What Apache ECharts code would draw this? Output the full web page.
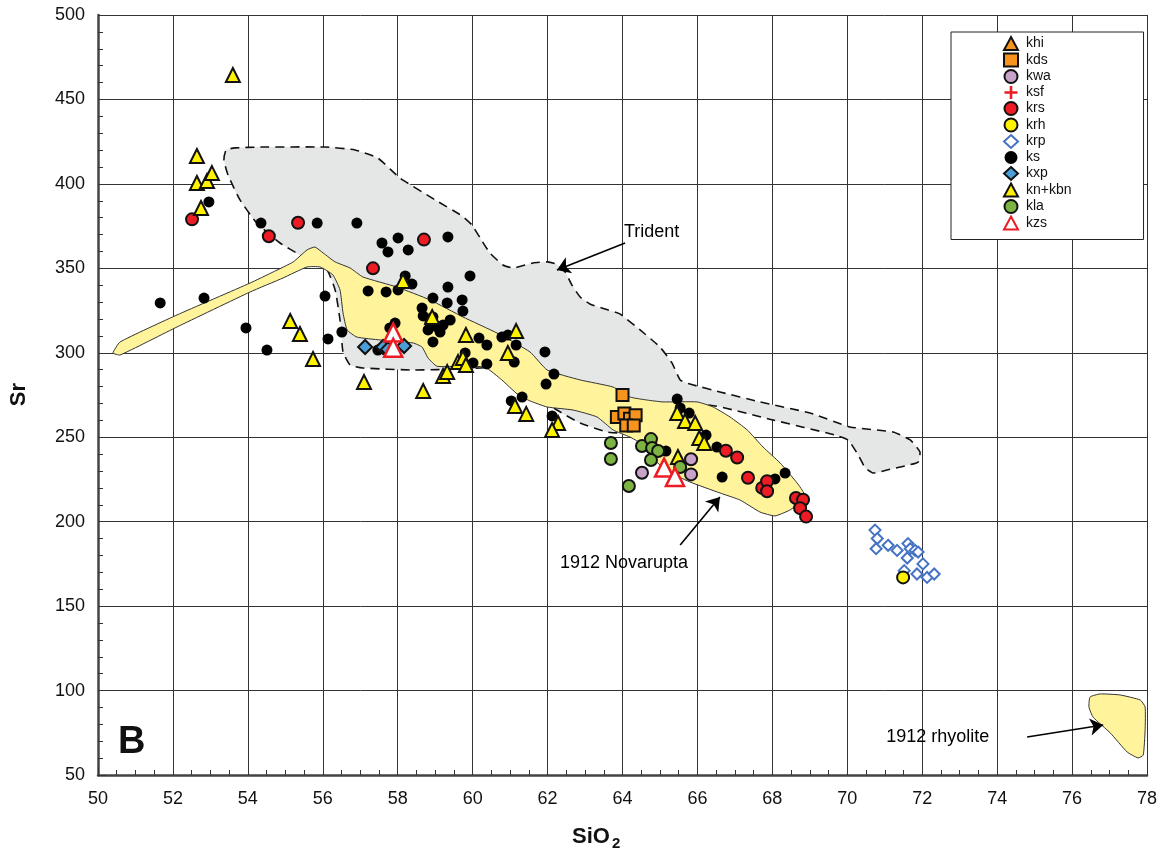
<!DOCTYPE html>
<html>
<head>
<meta charset="utf-8">
<script src="https://cdn.jsdelivr.net/npm/echarts@6/dist/echarts.min.js"></script>
<style>
  html, body { margin: 0; padding: 0; background: #fff; }
  #chart { width: 1168px; height: 857px; }
</style>
</head>
<body>
<div id="chart"></div>
<script>
// sample groups, [SiO2, Sr]
const khi = [];
const kds = [[64.0, 275], [63.85, 262], [64.05, 264], [64.2, 261], [64.35, 263], [64.1, 257], [64.3, 257]];
const kwa = [[64.52, 229], [65.83, 237], [65.83, 228]];
const ksf = [];
const krs = [[52.51, 379], [55.34, 377], [54.56, 369], [58.70, 367], [57.34, 350], [66.76, 242], [67.06, 238],
  [67.35, 226], [67.73, 220], [67.86, 224], [67.86, 218], [68.63, 214], [68.82, 213], [68.74, 208], [68.9, 203]];
const krh = [[71.49, 167]];
const krp = [[70.74, 195], [70.80, 190], [70.77, 184], [71.09, 186], [71.33, 183], [71.62, 187], [71.68, 184],
  [71.81, 183], [71.89, 182], [71.60, 178.5], [72.02, 175], [71.52, 171], [71.86, 169], [72.13, 167], [72.32, 169]];
const ks = [[51.66, 329.5], [52.83, 332.4], [52.96, 389.3], [53.95, 314.7], [54.51, 301.6], [54.35, 376.8],
  [55.85, 376.8], [56.06, 333.6], [56.14, 308.2], [56.51, 312.3], [56.91, 376.8], [57.58, 365.0], [58.01, 368.0],
  [57.74, 359.7], [58.28, 360.9], [59.34, 368.6], [59.93, 345.5], [58.38, 340.7], [58.01, 337.2], [57.69, 336.0],
  [57.21, 336.6], [58.2, 345.5], [59.34, 338.9], [58.94, 332.4], [59.32, 329.5], [59.72, 331.3], [59.74, 324.7],
  [58.65, 326.5], [58.68, 321.8], [58.86, 317.6], [59.05, 315.3], [59.21, 316.4], [59.40, 319.4], [59.13, 312.3],
  [58.81, 313.5], [58.94, 321.2], [58.94, 306.4], [57.93, 317.6], [57.79, 314.7], [60.17, 308.7], [60.38, 304.6],
  [60.78, 309.3], [60.94, 310.5], [61.16, 304.6], [59.80, 299.9], [60.01, 294.0], [60.38, 293.4], [61.11, 294.5],
  [61.93, 300.5], [62.17, 287.4], [61.96, 281.5], [61.32, 273.8], [61.03, 271.5], [62.12, 262.6], [65.46, 272.6],
  [65.54, 267.3], [65.78, 264.3], [65.16, 241.8], [66.23, 251.3], [66.15, 249.5], [66.52, 244.2], [66.66, 226.4],
  [68.07, 225.3], [68.34, 228.8], [57.47, 301.6], [64.01, 262.0]];
const kxp = [[57.13, 303.4], [57.61, 303.4], [57.74, 302], [58.17, 304]];
const knkbn = [[53.60, 464.5], [52.64, 416.5], [52.64, 400.5], [52.91, 401.7], [53.04, 406.4], [52.75, 385.7],
  [55.13, 318.8], [55.39, 311.1], [55.74, 296.3], [58.14, 342.5], [57.10, 282.7], [58.68, 277.4], [59.21, 286.3],
  [59.32, 288.6], [59.61, 294.5], [59.74, 296.9], [59.82, 292.8], [58.92, 321.2], [59.82, 310.5], [60.94, 299.9],
  [61.16, 312.9], [61.13, 268.5], [61.43, 263.8], [62.28, 258.4], [62.12, 254.3], [65.46, 264.3], [65.67, 259.6],
  [65.94, 258.4], [66.05, 249.5], [66.18, 246.6], [65.48, 238.3]];
const kla = [[63.69, 246.6], [63.69, 237.1], [64.52, 244.8], [64.76, 248.9], [64.79, 243.6], [64.95, 241.8],
  [64.76, 236.5], [64.17, 221.1], [65.54, 232.4]];
const kzs = [[57.88, 312], [57.88, 303], [65.11, 232], [65.40, 226.5]];

// outlines of fields
const trident = [[53.36, 414.1], [53.42, 420.1], [53.66, 421.3], [54.32, 421.8], [56.06, 421.8], [56.86, 420.1],
  [57.47, 415.3], [58.06, 403.5], [59.0, 390.5], [59.72, 381.0], [59.98, 375.7], [60.20, 368.0], [60.46, 359.1],
  [60.81, 352.0], [61.08, 350.2], [61.61, 353.2], [61.99, 353.8], [62.23, 352.6], [62.47, 347.8], [62.65, 340.1],
  [62.87, 333.0], [63.13, 328.9], [63.53, 325.9], [63.93, 323.0], [64.47, 313.5], [65.00, 303.4], [65.32, 294.0],
  [65.54, 283.9], [65.80, 281.5], [66.60, 276.8], [67.67, 270.9], [69.01, 264.3], [70.07, 256.1], [71.22, 253.1],
  [71.68, 248.4], [71.94, 241.2], [71.89, 235.3], [71.54, 233.0], [71.06, 230.6], [70.69, 228.8], [70.48, 231.8],
  [70.29, 239.5], [70.02, 248.4], [69.67, 251.3], [68.02, 260.2], [66.26, 269.1], [65.27, 260.2], [64.20, 252.5],
  [63.59, 253.1], [62.87, 258.4], [62.25, 266.1], [61.27, 280.9], [60.46, 291.0], [59.74, 290.4], [58.41, 289.8],
  [57.07, 291.0], [56.73, 292.8], [56.54, 300.5], [56.46, 319.4], [56.33, 337.2], [56.11, 349.0], [55.39, 357.9],
  [54.86, 365.0], [54.24, 376.8], [53.79, 390.5], [53.47, 405.3]];
const novarupta = [[50.40, 299.9], [50.59, 306.4], [52.11, 322.4], [54.06, 341.3], [54.67, 347.8], [55.21, 353.8],
  [55.58, 360.9], [55.79, 362.6], [56.01, 359.1], [56.33, 353.8], [56.73, 350.2], [57.07, 344.9], [57.98, 338.9],
  [58.86, 331.3], [59.74, 321.2], [60.65, 311.7], [61.53, 300.5], [61.99, 289.8], [62.87, 283.9], [63.75, 279.7],
  [64.20, 273.8], [64.66, 272.0], [65.08, 270.9], [65.99, 270.9], [66.42, 267.9], [66.87, 262.0], [67.33, 254.3],
  [67.75, 244.2], [68.21, 234.7], [68.66, 222.9], [68.85, 216.4], [68.74, 211.6], [68.47, 206.9], [68.07, 203.4],
  [67.67, 205.7], [67.14, 212.8], [66.60, 217.0], [65.80, 223.5], [65.14, 230.6], [64.74, 239.5], [64.47, 246.6],
  [64.20, 250.1], [63.75, 254.3], [63.32, 262.0], [62.68, 266.1], [61.99, 267.9], [61.53, 271.5], [61.19, 275.6],
  [60.78, 283.9], [60.33, 291.5], [59.74, 292.0], [59.05, 292.0], [58.81, 296.9], [58.65, 303.4], [58.41, 305.8],
  [57.53, 307.6], [56.91, 309.3], [56.65, 313.5], [56.54, 323.6], [56.46, 337.2], [56.27, 346.1], [55.93, 350.8],
  [55.58, 350.8], [54.94, 344.3], [54.06, 336.0], [52.11, 315.3], [50.59, 298.7]];
const rhyolite = [[76.48, 96.2], [76.75, 98], [77.28, 97.4], [77.82, 94.4], [77.95, 90.3], [77.95, 76.6],
  [77.9, 61.8], [77.76, 60.1], [77.47, 63.6], [77.02, 74.9], [76.56, 84.3], [76.45, 90.3]];

// labels and arrows
const notes = [
  { name: 'Trident', value: [64.04, 371.5] },
  { name: '1912 Novarupta', value: [62.33, 175.5] },
  { name: '1912 rhyolite', value: [71.04, 72.5] }
];
const arrows = [
  [[64.07, 365.0], [62.25, 349.0]],
  [[65.54, 186.2], [66.6, 214.6]],
  [[74.8, 72.5], [76.83, 79.6]]
];

const FONT = 'Liberation Sans, Arial, Helvetica, sans-serif';
const chart = echarts.init(document.getElementById('chart'));

function pts(name, data, symbol, size, fill, stroke, bw, z) {
  return {
    type: 'scatter', name: name, data: data, symbol: symbol, symbolSize: size, z: z,
    itemStyle: { color: fill, borderColor: stroke, borderWidth: bw, opacity: 1 },
    emphasis: { disabled: true }, silent: true
  };
}

function field(poly, fill, stroke, width, dash, z) {
  return {
    type: 'custom', z: z, silent: true, data: [[50, 50]],
    renderItem: function (params, api) {
      return {
        type: 'polygon',
        shape: { points: poly.map(function (p) { return api.coord(p); }), smooth: 0.15 },
        style: { fill: fill, stroke: stroke, lineWidth: width, lineDash: dash }
      };
    }
  };
}

const plus = 'path://M4,0H6V4H10V6H6V10H4V6H0V4H4Z';

chart.setOption({
  animation: false,
  grid: { left: 98, right: 21, top: 15, bottom: 82 },
  xAxis: {
    type: 'value', min: 50, max: 78, interval: 2,
    axisLine: { lineStyle: { color: '#444', width: 2.5 } },
    axisTick: { inside: true, length: 8, lineStyle: { color: '#333' } },
    minorTick: { show: true, splitNumber: 4, length: 5, lineStyle: { color: '#333' } },
    axisLabel: { fontSize: 18, color: '#111', fontFamily: FONT, margin: 15 },
    splitLine: { show: true, lineStyle: { color: '#333', width: 1 } }
  },
  yAxis: {
    type: 'value', min: 50, max: 500, interval: 50,
    axisLine: { show: true, lineStyle: { color: '#444', width: 2.5 } },
    axisTick: { show: true, inside: true, length: 8, lineStyle: { color: '#333' } },
    minorTick: { show: true, splitNumber: 5, length: 5, lineStyle: { color: '#333' } },
    axisLabel: { fontSize: 18, color: '#111', fontFamily: FONT, margin: 13 },
    splitLine: { show: true, lineStyle: { color: '#333', width: 1 } }
  },
  legend: {
    orient: 'vertical', left: 951, top: 32,
    padding: [4, 72, 9, 52], itemGap: 1.5, itemWidth: 14, itemHeight: 13,
    backgroundColor: '#fff', borderColor: '#222', borderWidth: 1,
    selectedMode: false,
    textStyle: { fontSize: 14, lineHeight: 14, color: '#111', fontFamily: FONT, padding: [0, 0, 0, 3] },
    data: ['khi', 'kds', 'kwa', 'ksf', 'krs', 'krh', 'krp', 'ks', 'kxp', 'kn+kbn', 'kla', 'kzs']
  },
  graphic: [
    { type: 'text', left: 118, top: 724, style: { text: 'B', font: 'bold 38px ' + FONT, fill: '#111' } },
    { type: 'text', left: 572, top: 826, style: { text: 'SiO', font: 'bold 22px ' + FONT, fill: '#111' } },
    { type: 'text', left: 612, top: 836, style: { text: '2', font: 'bold 15px ' + FONT, fill: '#111' } },
    { type: 'text', left: 8, top: 383, rotation: Math.PI / 2,
      style: { text: 'Sr', font: 'bold 22px ' + FONT, fill: '#111' } }
  ],
  series: [
    field(trident, '#e5e6e6', '#111', 1.6, [9, 6], 1),
    field(novarupta, '#fff39b', '#333', 1, null, 2),
    field(rhyolite, '#fff39b', '#333', 1, null, 2),
    {
      type: 'scatter', name: 'notes', data: notes, symbolSize: 0, z: 3, silent: true,
      itemStyle: { color: '#000', opacity: 1 },
      label: {
        show: true, position: 'right', distance: 0, formatter: '{b}', opacity: 1,
        fontSize: 18, color: '#000', fontFamily: FONT
      },
      markLine: {
        silent: true, symbol: ['none', 'arrow'], symbolSize: 13,
        lineStyle: { color: '#000', width: 1.6, type: 'solid', opacity: 1 },
        label: { show: false },
        data: arrows.map(function (a) { return [{ coord: a[0] }, { coord: a[1] }]; })
      }
    },
    pts('khi', khi, 'triangle', 14, '#f7941d', '#111', 2, 6),
    pts('kds', kds, 'rect', 12, '#f7941d', '#111', 2, 7),
    pts('kwa', kwa, 'circle', 12, '#c8a2c8', '#111', 2, 6),
    pts('ksf', ksf, plus, 12, '#ed1c24', '#ed1c24', 0, 6),
    pts('krs', krs, 'circle', 12, '#ed1c24', '#111', 2, 6),
    pts('krh', krh, 'circle', 12, '#fff200', '#111', 2, 6),
    pts('krp', krp, 'diamond', 11, '#fff', '#4472c4', 2, 5),
    pts('ks', ks, 'circle', 11, '#000', '#000', 0, 4),
    pts('kxp', kxp, 'diamond', 14, '#4a9fd8', '#111', 2, 6),
    pts('kn+kbn', knkbn, 'triangle', 14, '#fff200', '#111', 2, 6),
    pts('kla', kla, 'circle', 12, '#7cb342', '#111', 2, 6),
    pts('kzs', kzs, 'triangle', 18, '#fff', '#ed1c24', 2.5, 8)
  ]
});
</script>
</body>
</html>
